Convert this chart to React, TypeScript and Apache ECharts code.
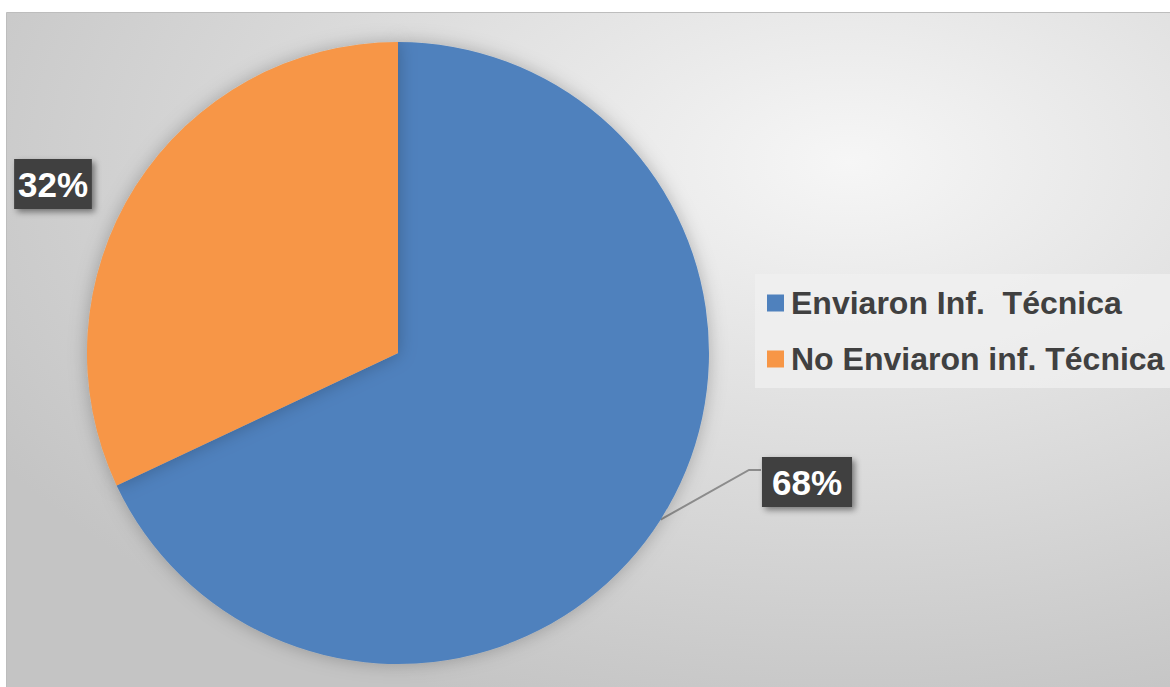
import React, { useEffect, useRef } from "react";
import * as echarts from "echarts";

const categories = ["Enviaron Inf.  Técnica", "No Enviaron inf. Técnica"];
const values = [68, 32];
const colors = ["#4f81bd", "#f79646"];
const labelTexts = ["68%", "32%"];

export default function App() {
  const ref = useRef<HTMLDivElement>(null);
  useEffect(() => {
    const chart = echarts.init(ref.current!, undefined, { renderer: "svg" });
    const labelPos = [
      { x: 807, y: 482 },
      { x: 53, y: 184 },
    ];
    chart.setOption({
      animation: false,
      graphic: [
        {
          type: "rect",
          silent: true,
          z: -10,
          shape: { x: 6.5, y: 12.5, width: 1170, height: 680 },
          style: {
            fill: new echarts.graphic.RadialGradient(0.72, 0.22, 0.85, [
              { offset: 0, color: "#f6f6f6" },
              { offset: 1, color: "#c4c4c4" },
            ]),
            stroke: "#bdbdbd",
            lineWidth: 1,
          },
        },
      ],
      legend: {
        orient: "vertical",
        left: 755,
        top: 274,
        padding: [12, 10, 12, 12],
        backgroundColor: "rgba(240,240,240,0.75)",
        itemWidth: 17,
        itemHeight: 17,
        itemGap: 22,
        icon: "rect",
        data: categories,
        textStyle: {
          fontFamily: "Liberation Sans, Arial, sans-serif",
          fontSize: 32,
          fontWeight: "bold",
          color: "#404040",
          lineHeight: 34,
          padding: [0, 0, 0, 2],
        },
      },
      series: [
        {
          type: "pie",
          center: [398, 353],
          radius: 311,
          startAngle: 90,
          clockwise: true,
          itemStyle: {
            shadowBlur: 18,
            shadowColor: "rgba(0,0,0,0.25)",
          },
          emphasis: { disabled: true },
          label: {
            show: true,
            position: "outside",
            overflow: "none",
            formatter: (p: any) => labelTexts[p.dataIndex],
            fontFamily: "Liberation Sans, Arial, sans-serif",
            fontSize: 35,
            fontWeight: "bold",
            color: "#ffffff",
            backgroundColor: "#404040",
            padding: [8, 10, 7, 10],
            shadowBlur: 6,
            shadowOffsetX: 3,
            shadowOffsetY: 3,
            shadowColor: "rgba(0,0,0,0.45)",
          },
          labelLine: {
            show: true,
            lineStyle: { color: "#8c8c8c", width: 2 },
          },
          labelLayout: (params: any) => {
            const i = params.dataIndex;
            const out: any = {
              x: labelPos[i].x,
              y: labelPos[i].y,
              align: "center",
              verticalAlign: "middle",
            };
            if (i === 0 && params.labelLinePoints) {
              const start = params.labelLinePoints[0];
              out.labelLinePoints = [start, [749, 470], [761, 470]];
            }
            return out;
          },
          data: categories.map((name, i) => ({
            name,
            value: values[i],
            itemStyle: { color: colors[i] },
            labelLine: i === 1 ? { show: false } : undefined,
          })),
        },
      ],
    });
    return () => chart.dispose();
  }, []);
  return (
    <div
      ref={ref}
      style={{ position: "absolute", left: 0, top: 0, width: 1170, height: 687 }}
    />
  );
}
